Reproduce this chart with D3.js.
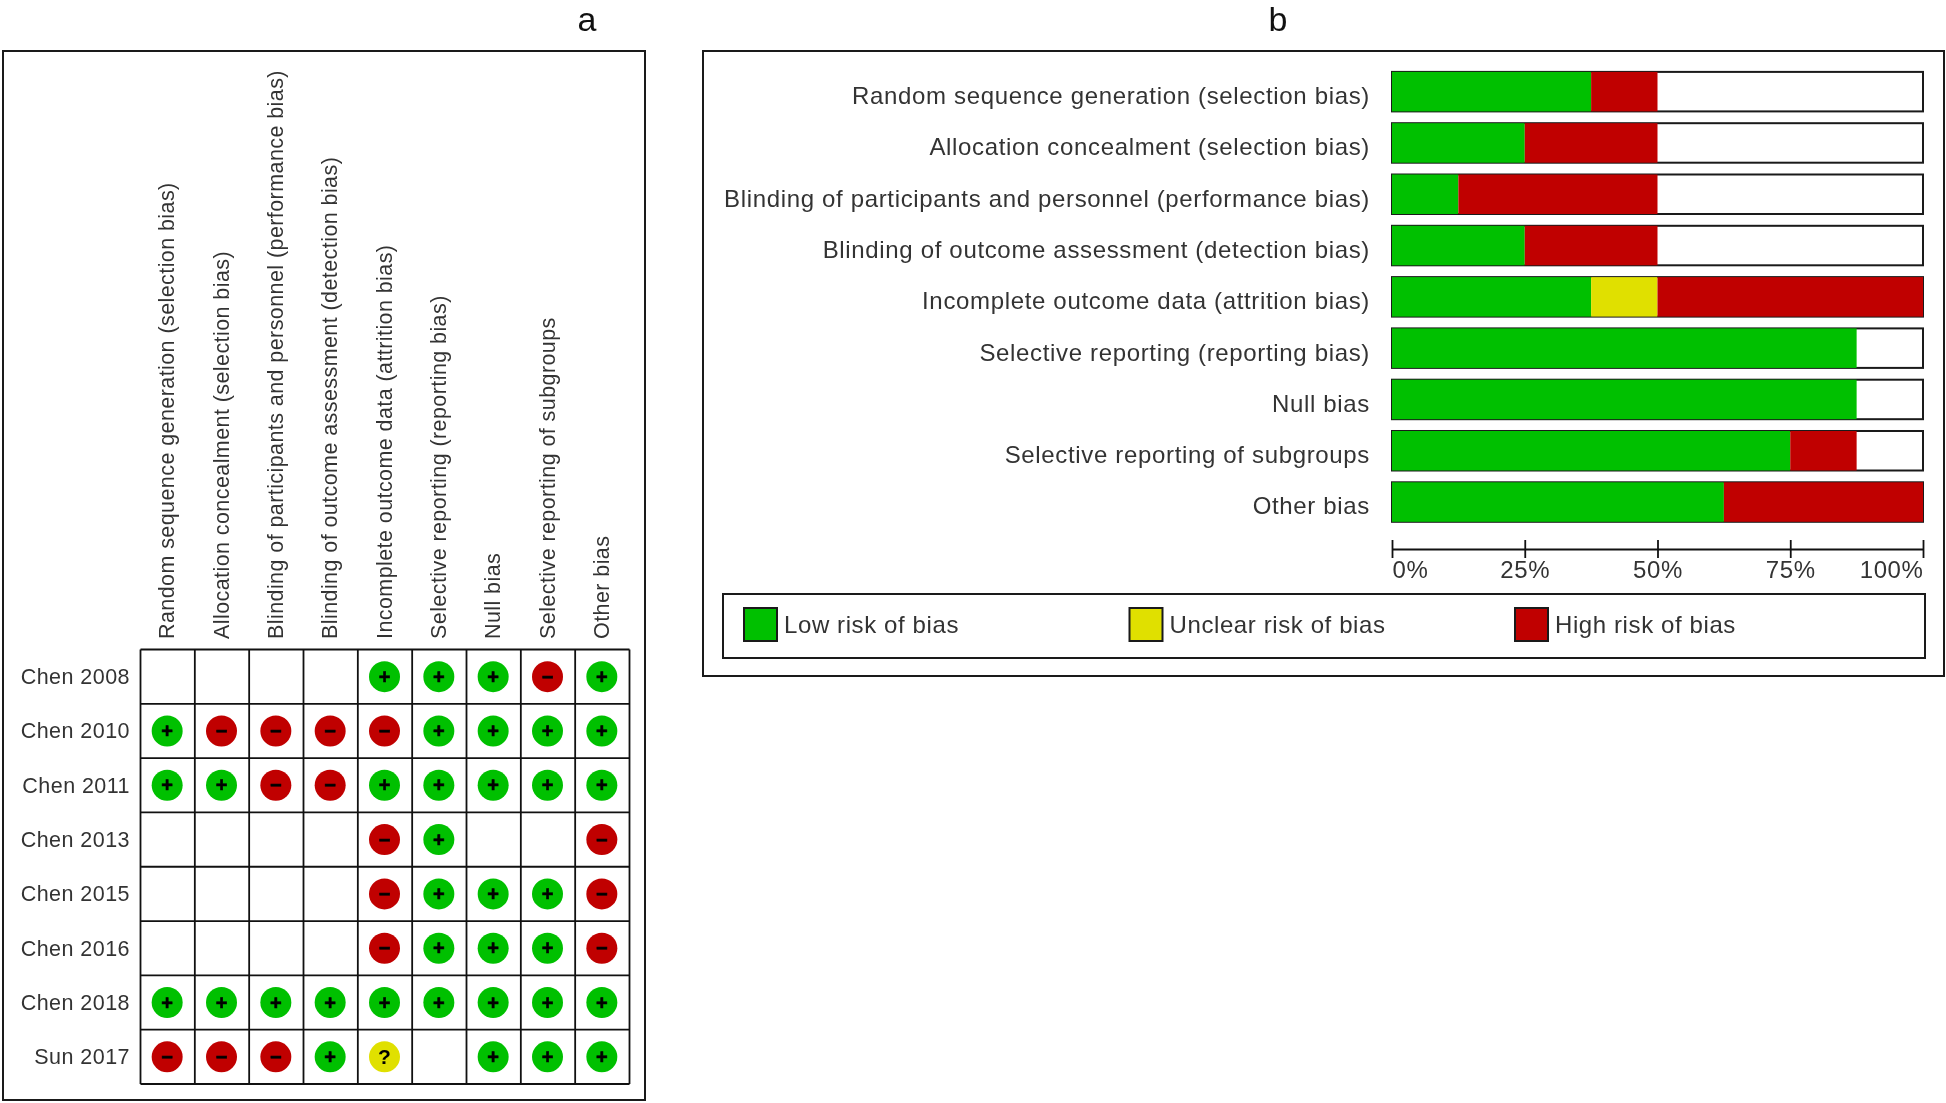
<!DOCTYPE html>
<html><head><meta charset="utf-8">
<script src="https://cdn.jsdelivr.net/npm/d3@7/dist/d3.min.js"></script>
<style>
html,body{margin:0;padding:0;background:#fff;overflow:hidden}
svg{display:block;filter:blur(0.35px)}
text{font-family:"Liberation Sans",Arial,sans-serif}
</style></head><body>
<svg id="c" width="1946" height="1103"></svg>
<script>
const domains=["Random sequence generation (selection bias)","Allocation concealment (selection bias)","Blinding of participants and personnel (performance bias)","Blinding of outcome assessment (detection bias)","Incomplete outcome data (attrition bias)","Selective reporting (reporting bias)","Null bias","Selective reporting of subgroups","Other bias"];
const studies=["Chen 2008","Chen 2010","Chen 2011","Chen 2013","Chen 2015","Chen 2016","Chen 2018","Sun 2017"];
const chen2008=["","","","","+","+","+","-","+"];
const chen2010=["+","-","-","-","-","+","+","+","+"];
const chen2011=["+","+","-","-","+","+","+","+","+"];
const chen2013=["","","","","-","+","","","-"];
const chen2015=["","","","","-","+","+","+","-"];
const chen2016=["","","","","-","+","+","+","-"];
const chen2018=["+","+","+","+","+","+","+","+","+"];
const sun2017=["-","-","-","+","?","","+","+","+"];
const judgments=[chen2008,chen2010,chen2011,chen2013,chen2015,chen2016,chen2018,sun2017];
const lowPct=[37.5,25,12.5,25,37.5,87.5,87.5,75,62.5];
const unclearPct=[0,0,0,0,12.5,0,0,0,0];
const highPct=[12.5,25,37.5,25,50,0,0,12.5,37.5];
const axisTicks=[0,25,50,75,100];
const legendLabels=["Low risk of bias","Unclear risk of bias","High risk of bias"];
const GREEN="#00c000",YELLOW="#e0e000",RED="#c00000",TXT="#333";

const svg=d3.select("#c");
function frame(x,y,w,h,sw=2){svg.append("rect").attr("x",x).attr("y",y).attr("width",w).attr("height",h).attr("fill","none").attr("stroke","#1a1a1a").attr("stroke-width",sw);}

// panel titles
svg.append("text").attr("x",587).attr("y",31).attr("text-anchor","middle").attr("font-size",34).attr("fill","#111").text("a");
svg.append("text").attr("x",1278).attr("y",31).attr("text-anchor","middle").attr("font-size",34).attr("fill","#111").text("b");

// panel a
frame(3,51,642,1049);
const cx=d3.scaleBand().domain(d3.range(domains.length)).range([140.5,629.5]);
const cy=d3.scaleBand().domain(studies).range([649.5,1084]);
const a=svg.append("g");
a.selectAll("line.v").data(d3.range(domains.length+1)).join("line")
 .attr("x1",i=>cx.range()[0]+i*cx.step()).attr("x2",i=>cx.range()[0]+i*cx.step())
 .attr("y1",cy.range()[0]).attr("y2",cy.range()[1]).attr("stroke","#111").attr("stroke-width",1.8);
a.selectAll("line.h").data(d3.range(studies.length+1)).join("line")
 .attr("y1",i=>cy.range()[0]+i*cy.step()).attr("y2",i=>cy.range()[0]+i*cy.step())
 .attr("x1",cx.range()[0]).attr("x2",cx.range()[1]).attr("stroke","#111").attr("stroke-width",1.8);
a.selectAll("text.dom").data(domains).join("text").attr("class","dom")
 .attr("transform",(d,i)=>`translate(${cx(i)+cx.bandwidth()/2-1},639) rotate(-90)`)
 .attr("dy","0.35em").attr("font-size",21.5).attr("letter-spacing",0.42).attr("fill",TXT).text(d=>d);
a.selectAll("text.st").data(studies).join("text").attr("class","st")
 .attr("x",130).attr("y",d=>cy(d)+cy.bandwidth()/2).attr("dy","0.35em").attr("text-anchor","end")
 .attr("font-size",21.5).attr("letter-spacing",0.45).attr("fill",TXT).text(d=>d);
const colorOf={"+":GREEN,"-":RED,"?":YELLOW};
const glyphOf={"+":"+","-":"−","?":"?"};
const cells=judgments.flatMap((r,ri)=>r.map((v,ci)=>({v,ci,study:studies[ri]}))).filter(d=>d.v);
const cg=a.selectAll("g.cell").data(cells).join("g").attr("class","cell")
 .attr("transform",d=>`translate(${cx(d.ci)+cx.bandwidth()/2-0.5},${cy(d.study)+cy.bandwidth()/2})`);
cg.append("circle").attr("r",15.5).attr("fill",d=>colorOf[d.v]);
cg.append("text").attr("text-anchor","middle").attr("dy","0.35em").attr("font-size",d=>d.v==="?"?21:20).attr("font-weight","bold").attr("stroke","#000").attr("stroke-width",d=>d.v==="?"?0:0.6).attr("fill","#000").text(d=>glyphOf[d.v]);

// panel b
frame(703,51,1241,625);
const x=d3.scaleLinear().domain([0,100]).range([1392,1923]);
const y=d3.scaleBand().domain(domains).range([66,66+9*51.3]).paddingInner(0.23).paddingOuter(0.115);
const b=svg.append("g");
const rows=b.selectAll("g.row").data(domains).join("g").attr("class","row");
rows.append("rect").attr("x",x(0)).attr("width",x(100)-x(0)).attr("y",d=>y(d)).attr("height",y.bandwidth()).attr("fill","#fff");
const segs=domains.flatMap((d,i)=>[
 {d,s:0,e:lowPct[i],c:GREEN},
 {d,s:lowPct[i],e:lowPct[i]+unclearPct[i],c:YELLOW},
 {d,s:lowPct[i]+unclearPct[i],e:lowPct[i]+unclearPct[i]+highPct[i],c:RED}]).filter(s=>s.e>s.s);
b.selectAll("rect.seg").data(segs).join("rect").attr("class","seg")
 .attr("x",s=>x(s.s)).attr("width",s=>x(s.e)-x(s.s)).attr("y",s=>y(s.d)).attr("height",y.bandwidth()).attr("fill",s=>s.c);
rows.append("rect").attr("x",x(0)).attr("width",x(100)-x(0)).attr("y",d=>y(d)).attr("height",y.bandwidth()).attr("fill","none").attr("stroke","#1a1a1a").attr("stroke-width",2);
rows.append("text").attr("x",1370).attr("y",d=>y(d)+y.bandwidth()/2+4).attr("dy","0.35em").attr("text-anchor","end")
 .attr("font-size",24).attr("letter-spacing",0.66).attr("fill",TXT).text(d=>d);

const ax=b.append("g").attr("transform","translate(0,549)").call(d3.axisBottom(x).tickValues(axisTicks).tickFormat(d=>d+"%").tickSize(9).tickSizeOuter(0));
ax.select(".domain").attr("stroke","#111").attr("stroke-width",1.8);
ax.selectAll(".tick line").attr("y1",-9).attr("y2",9).attr("stroke","#111").attr("stroke-width",1.8);
ax.selectAll(".tick text").attr("y",12).attr("font-family",'"Liberation Sans",Arial,sans-serif').attr("font-size",24).attr("letter-spacing",0.6).attr("fill",TXT)
 .attr("text-anchor",d=>d===0?"start":d===100?"end":"middle");

// legend
frame(723,594,1202,64);
const lx=d3.scalePoint().domain(legendLabels).range([744,1515]);
const lg=b.selectAll("g.leg").data(legendLabels).join("g").attr("class","leg").attr("transform",d=>`translate(${lx(d)},608)`);
lg.append("rect").attr("width",33).attr("height",33).attr("fill",(d,i)=>[GREEN,YELLOW,RED][i]).attr("stroke","#1a1a1a").attr("stroke-width",2);
lg.append("text").attr("x",40).attr("y",17).attr("dy","0.35em").attr("font-size",24).attr("letter-spacing",0.6).attr("fill",TXT).text(d=>d);
</script></body></html>
